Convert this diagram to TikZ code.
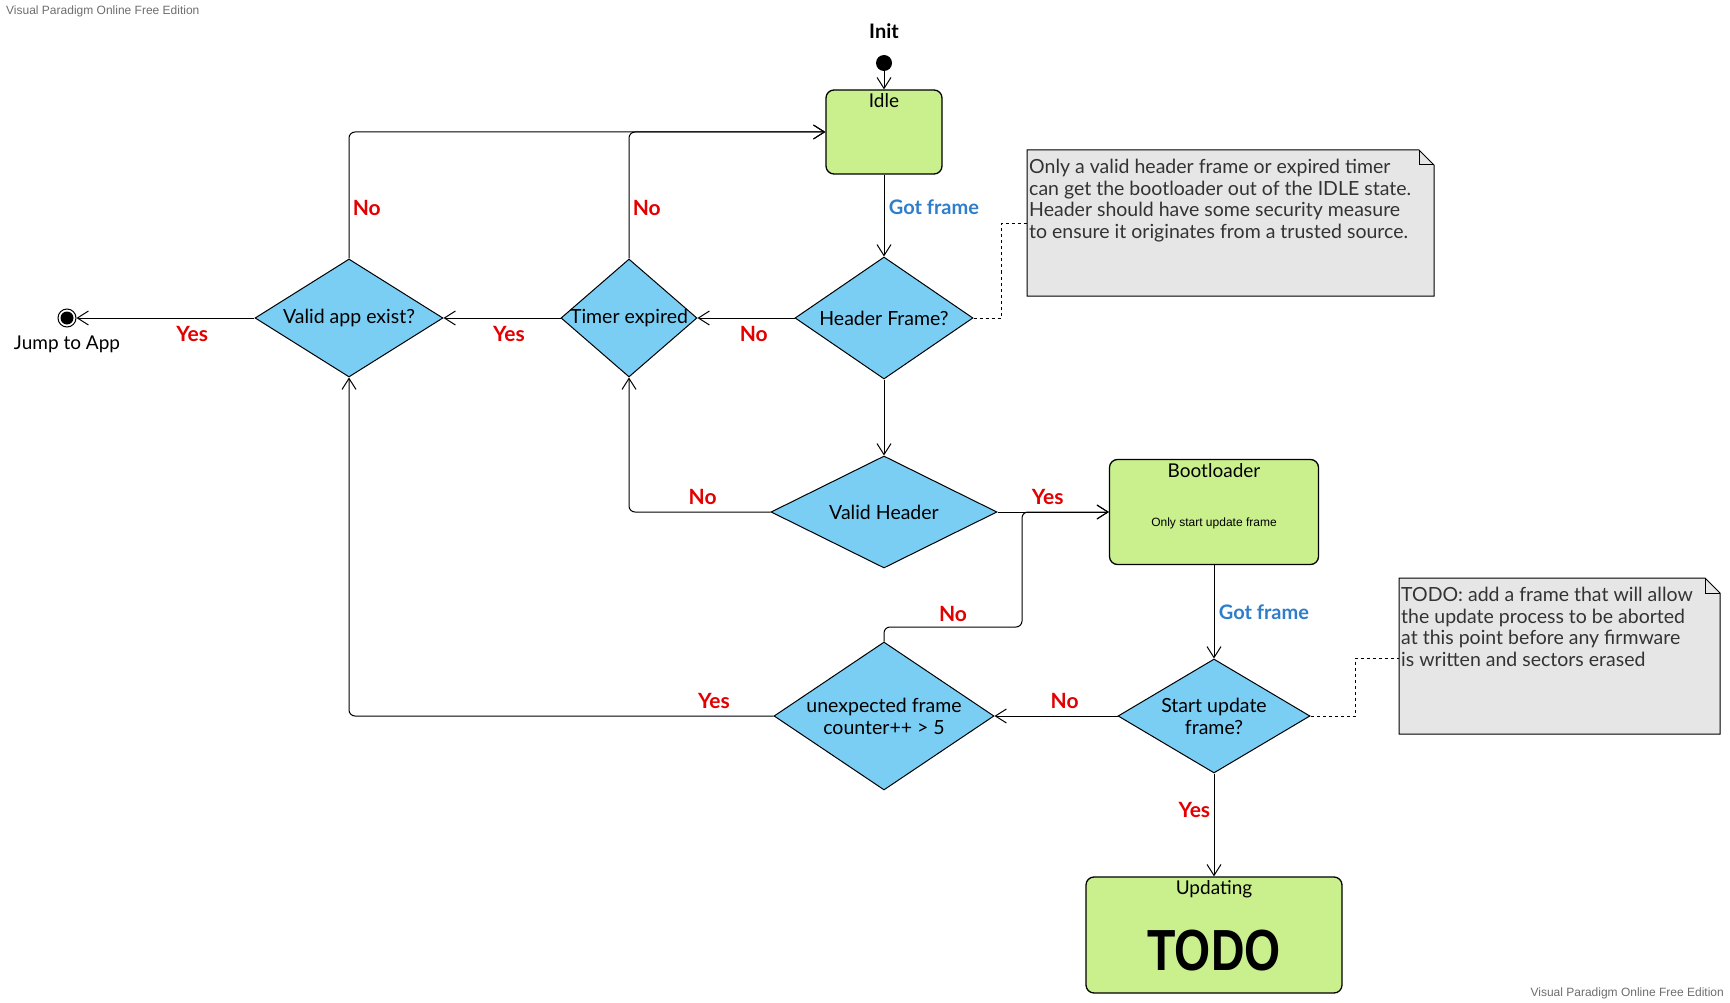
\documentclass[tikz,border=0pt]{standalone}
\usepackage{fontspec}
\setmainfont{Lato}
\newfontfamily\arialfont{Liberation Sans}
\usetikzlibrary{shapes.geometric,arrows.meta}
\definecolor{statefill}{RGB}{202,240,142}
\definecolor{choicefill}{RGB}{122,206,244}
\definecolor{notefill}{RGB}{230,230,230}
\definecolor{yesno}{RGB}{228,0,0}
\definecolor{gotblue}{RGB}{46,126,203}
\definecolor{notetext}{RGB}{51,51,51}
\definecolor{wmgray}{RGB}{110,110,110}
\tikzset{
  statebox/.style={draw, rounded corners=8pt, fill=statefill, line width=1.3pt, inner sep=0pt},
  choice/.style={diamond, aspect=1.6, draw, fill=choicefill, line width=1pt, inner sep=0pt, align=center,
    font=\fontsize{19.5}{22}\selectfont},
  arr/.style={-{Straight Barb[length=11pt,width=14pt]}, line width=1pt, rounded corners=6pt},
  redlbl/.style={text=yesno, font=\bfseries\fontsize{21}{24}\selectfont},
  bluelbl/.style={text=gotblue, font=\bfseries\fontsize{20}{24}\selectfont},
  title/.style={font=\fontsize{19}{22}\selectfont, inner sep=4pt},
  note/.style={draw, fill=notefill, line width=1pt},
  notetxt/.style={text=notetext, align=left, inner sep=0pt, font=\fontsize{19.5}{21.6}\selectfont},
  pin/.style={dashed, line width=1pt},
  watermark/.style={text=wmgray, font=\arialfont\fontsize{12}{14}\selectfont, inner sep=0pt}
}
\begin{document}
\begin{tikzpicture}[x=1pt, y=-1pt]
    \useasboundingbox[fill=white] (0,0) rectangle (1730,1003);
    \node[watermark, anchor=west] (wm1) at (6,11) {Visual Paradigm Online Free Edition};
    \node[watermark, anchor=east] (wm2) at (1724,993) {Visual Paradigm Online Free Edition};
    % states and choices
    \node[circle, fill, minimum size=16pt, inner sep=0pt,
      label={[font=\bfseries\fontsize{20}{22}\selectfont, label distance=13pt]above:Init}] (init) at (884,63) {};
    \node[statebox, minimum width=116pt, minimum height=84pt,
      label={[title, anchor=north]north:Idle}] (idle) at (884,132) {};
    \node[choice, minimum width=178pt, minimum height=122pt] (hdr) at (884,318) {Header Frame?};
    \node[choice, minimum width=136pt, minimum height=118pt,
      label={[font=\fontsize{19.5}{22}\selectfont, inner sep=0pt]center:Timer expired}] (timer) at (629,318) {};
    \node[choice, minimum width=188pt, minimum height=118pt] (app) at (349,318) {Valid app exist?};
    \node[circle, draw, line width=1pt, minimum size=18pt, inner sep=0pt,
      label={[font=\fontsize{19}{21}\selectfont, label distance=5pt]below:Jump to App}] (jump) at (67,318) {};
    \fill (jump.center) circle (6.5pt);
    \node[choice, minimum width=226pt, minimum height=112pt] (vhdr) at (884,512) {Valid Header};
    \node[statebox, minimum width=209pt, minimum height=105pt,
      label={[title, anchor=north]north:Bootloader},
      label={[font=\arialfont\fontsize{12}{14}\selectfont, yshift=-11pt]center:Only start update frame}] (boot) at (1214,512) {};
    \node[choice, minimum width=192pt, minimum height=114pt] (start) at (1214,716) {Start update\\frame?};
    \node[choice, aspect=1.48, minimum width=220pt, minimum height=148pt] (unexp) at (884,716) {unexpected frame\\counter++ > 5};
    \node[statebox, minimum width=256pt, minimum height=116pt,
      label={[title, anchor=north]north:Updating},
      label={[font=\arialfont\bfseries\fontsize{58}{60}\selectfont, yshift=-16pt]center:\scalebox{0.8}[1]{TODO}}] (upd) at (1214,935) {};
    % notes
    \draw[note] (1027,150) -- (1419,150) -- (1434,165) -- (1434,296) -- (1027,296) -- cycle;
    \draw[line width=1pt] (1419,150) |- (1434,165);
    \node[notetxt, anchor=north west] (n1txt) at (1029,159) {Only a valid header frame or expired timer\\can get the bootloader out of the IDLE state.\\Header should have some security measure\\to ensure it originates from a trusted source.};
    \coordinate (n1) at (1027,224);
    \draw[note] (1399,578) -- (1705,578) -- (1720,593) -- (1720,734) -- (1399,734) -- cycle;
    \draw[line width=1pt] (1705,578) |- (1720,593);
    \node[notetxt, anchor=north west] (n2txt) at (1401,587) {TODO: add a frame that will allow\\the update process to be aborted\\at this point before any firmware\\is written and sectors erased};
    \coordinate (n2) at (1399,658);
    % connectors
    \draw[arr] (init) -- (idle);
    \draw[arr] (idle) -- node[bluelbl, right=1pt, pos=0.4] {Got frame} (hdr);
    \draw[arr] (hdr) -- node[redlbl, below=4pt, pos=0.42] {No} (timer);
    \draw[arr] (timer) -- node[redlbl, below=4pt, pos=0.44] {Yes} (app);
    \draw[arr] (app) -- node[redlbl, below=4pt, pos=0.35] {Yes} (jump);
    \draw[arr] (app.north) |- node[redlbl, right, pos=0.2] {No} (idle.west);
    \draw[arr] (timer.north) |- node[redlbl, right, pos=0.2] {No} (idle.west);
    \draw[arr] (hdr) -- (vhdr);
    \draw[arr] (vhdr.west) -| node[redlbl, above=4pt, pos=0.24] {No} (timer.south);
    \draw[arr] (vhdr) -- node[redlbl, above=4pt, pos=0.45] {Yes} (boot);
    \draw[arr] (boot) -- node[bluelbl, right=1pt] {Got frame} (start);
    \draw[arr] (start) -- node[redlbl, above=4pt, pos=0.43] {No} (unexp);
    \draw[arr] (start) -- node[redlbl, left, pos=0.35] {Yes} (upd);
    \coordinate (c1) at (1022,627);
    \draw[arr] (unexp.north) |- node[redlbl, above=2pt, pos=0.75] {No} (c1) |- (boot.west);
    \draw[arr] (unexp.west) -| node[redlbl, above=4pt, pos=0.07] {Yes} (app.south);
    \draw[pin] (hdr.east) -- (1001,318) |- (n1);
    \draw[pin] (start.east) -- (1355,716) |- (n2);
\end{tikzpicture}
\end{document}
